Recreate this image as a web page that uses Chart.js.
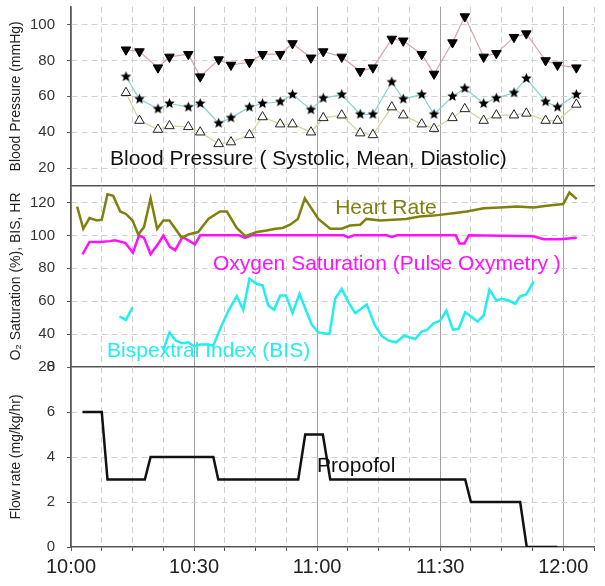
<!DOCTYPE html>
<html>
<head>
<meta charset="utf-8">
<script src="https://cdn.jsdelivr.net/npm/chart.js@4"></script>
<style>
  html, body { margin: 0; padding: 0; background: #fff; }
  #wrap { position: relative; width: 605px; height: 586px; overflow: hidden; }
  canvas { position: absolute; left: 0; }
</style>
</head>
<body>
<div id="wrap">
  <canvas id="bpChart" width="605" height="200" style="top:0px"></canvas>
  <canvas id="vitalsChart" width="605" height="200" style="top:180px"></canvas>
  <canvas id="flowChart" width="605" height="231" style="top:355px"></canvas>
</div>
<script>
// time axis: minutes after 10:00
const xTickLabels = ['10:00', '10:30', '11:00', '11:30', '12:00'];

// blood pressure readings
const bpTimes = [13.4, 16.7, 21.2, 24, 28.6, 31.5, 36, 39, 43.5, 46.7, 51, 54, 58.5, 61.5, 66,
                 70.5, 73.6, 78.2, 81, 85.5, 88.5, 93, 96, 100.6, 103.7, 108, 111, 115.7, 118.6, 123.2];
const systolic = [86, 85, 76, 82, 83.5, 71, 80.5, 77.5, 79, 83.5, 83.5, 89.5, 81.5, 85, 82,
                  74, 76, 92, 91, 83.5, 72.5, 90, 104.5, 82, 84, 93, 95, 80, 77.5, 76];
const mean = [71, 58.5, 53, 56, 54, 56, 45, 48, 54, 56, 57, 61, 52.5, 59, 61,
              50, 50, 68, 58.5, 61, 50, 60, 64.5, 56, 59, 62, 70, 57, 54, 61];
const diastolic = [62, 46.5, 41.5, 43.5, 43, 40, 33.5, 34.5, 38.5, 48.5, 44.5, 44.5, 40, 48, 49.5,
                   39.5, 38.5, 54, 49.5, 44.5, 42, 48, 53, 46.5, 49.5, 49.5, 50.5, 46.5, 46.5, 55.5];

// heart rate
const hrTimes = [1.5, 3, 4.5, 6.3, 7.5, 8.9, 10.3, 12, 13.4, 15, 16.4, 17.8, 19.4, 21, 22.5, 24, 27, 28.6,
                 31, 33.5, 36.3, 38, 40.4, 42.5, 45.3, 47.7, 49.8, 51.6, 53.4, 55.3, 57, 60.3, 63.2, 66,
                 68, 70.5, 72, 75.4, 78.5, 81.7, 85, 88.3, 93.2, 96.5, 100.6, 104.6, 108.7, 112.8, 116,
                 120, 121.5, 123.3];
const hrValues = [117.5, 104, 110.5, 109, 109.5, 125, 124, 114.5, 113, 109, 100.5, 105, 122.5, 104, 109, 109,
                  98.5, 100.5, 102, 110, 114.5, 114.5, 104.5, 99.5, 102, 103, 104, 104.5, 106.5, 110, 122.5,
                  110, 104, 104, 106, 106.5, 110, 109, 109.5, 110, 111.5, 112, 113.5, 114.5, 116.5, 117,
                  117.5, 117, 118, 119, 126, 122];

// oxygen saturation
const spo2Times = [2.8, 4.5, 7, 9.5, 10.7, 13.2, 15.1, 16.6, 17.8, 19.4, 21.3, 22.5, 24.1, 25.4, 27.2, 28.6,
                   30.2, 31.5, 41, 42.4, 44, 66.5, 67.6, 69, 77, 78.2, 79.5, 93.8, 94.7, 95.9, 97, 112.7,
                   115.2, 119.3, 123.3];
const spo2Values = [88.5, 96, 96, 96.5, 97, 95.5, 89.5, 100, 98.5, 88.5, 95, 100, 93, 91, 99, 97,
                    94.5, 100, 100, 98.5, 100, 100, 98.8, 100, 100, 99, 100, 100, 95, 95, 100, 99.5,
                    97.7, 97.7, 98.5];

// bispectral index (null = no signal)
const bisTimes = [11.8, 13.4, 15, 19, 22.5, 24, 25.6, 27.2, 28.6, 30, 31.5, 33.1, 34.7, 36.5, 38.4, 40.4, 42,
                  43.5, 45.3, 46.7, 48.1, 49.5, 51, 52.4, 54, 55.7, 57.3, 58.7, 60.3, 63, 64.4, 66, 67.6,
                  69.3, 72.1, 74.1, 75.7, 77.4, 79.3, 81.2, 83.9, 85.5, 86.8, 88.4, 90, 91.5, 93.1, 94.5,
                  96.1, 97.5, 99.1, 100.6, 102, 103.7, 105, 106.7, 108.3, 109.5, 111, 112.8];
const bisValues = [50.7, 48.6, 56.3, null, 30.5, 41, 36, 34.4, 35, 32.5, 33.6, 33.6, 33, 44, 54.3, 63, 54.7,
                   73.7, 70.4, 69.6, 57.4, 54.8, 63.5, 63.5, 52.7, 64.5, 54.3, 45.8, 41, 40, 61.5, 67.6, 59.4,
                   52.7, 58, 45.2, 39, 36, 35, 39, 37, 41.5, 42.6, 46.6, 48.2, 54.3, 42.7, 43.2,
                   53.3, 50.7, 47.6, 51.3, 67, 60.4, 61.5, 60.4, 58.4, 62.9, 64.1, 72];

// propofol infusion
const propofolTimes = [2.8, 7.5, 8.9, 18, 19.4, 34.7, 35.9, 55.4, 57.1, 61.4, 63.2, 96.1, 97.5, 109.5, 111.1, 118.6];
const propofolRates = [6, 6, 3, 3, 4, 4, 3, 3, 5, 5, 3, 3, 2, 2, 0, 0];

Chart.defaults.font.family = "'Liberation Sans', Arial, sans-serif";
Chart.defaults.color = '#222';

const toPoints = (xs, ys) => xs.map((t, i) => ({ x: t, y: ys[i] }));

// filled five point star for the mean pressure markers
function makeStar(r) {
    const size = Math.ceil(r * 2) + 2;
    const c = document.createElement('canvas');
    c.width = size; c.height = size;
    const g = c.getContext('2d');
    g.beginPath();
    for (let i = 0; i < 10; i++) {
        const rr = i % 2 ? r * 0.45 : r;
        const a = -Math.PI / 2 + i * Math.PI / 5;
        g.lineTo(size / 2 + rr * Math.cos(a), size / 2 + rr * Math.sin(a));
    }
    g.closePath();
    g.fillStyle = '#000';
    g.fill();
    return c;
}

// draws free text at data coordinates
const textLabels = {
    id: 'textLabels',
    afterDatasetsDraw(chart, args, opts) {
        const { ctx, scales } = chart;
        (opts.items || []).forEach(it => {
            ctx.save();
            ctx.font = "21px 'Liberation Sans', Arial, sans-serif";
            ctx.fillStyle = it.color;
            ctx.textBaseline = 'middle';
            ctx.fillText(it.text, scales.x.getPixelForValue(it.x), scales.y.getPixelForValue(it.y));
            ctx.restore();
        });
    }
};

function xScale(showLabels, height) {
    return {
        type: 'linear',
        min: 0,
        max: 127.5,
        afterBuildTicks: s => {
            s.ticks = [];
            for (let i = 0; i <= 17; i++) s.ticks.push({ value: i * 7.5 });
        },
        afterFit: s => {
            s.height = height;
            s.paddingLeft = 0;
            s.paddingRight = 0;
        },
        grid: {
            color: ctx => (ctx.tick && ctx.tick.value % 30 === 0) ? '#a0a0a0' : '#d0d0d0',
            lineWidth: 1,
            drawTicks: true,
            tickLength: 4,
            tickColor: '#555'
        },
        border: {
            color: '#555',
            width: 1.5,
            dash: ctx => (!ctx.tick || ctx.tick.value % 30 === 0) ? [] : [6, 4]
        },
        ticks: {
            display: showLabels,
            autoSkip: false,
            maxRotation: 0,
            padding: 4,
            color: '#222',
            font: { size: 20 },
            callback: v => v % 30 === 0 ? xTickLabels[v / 30] : ''
        }
    };
}

function yScale(min, max, ticks, title, hiddenGrid) {
    return {
        min: min,
        max: max,
        afterBuildTicks: s => { s.ticks = ticks.map(v => ({ value: v })); },
        afterFit: s => {
            s.width = 71;
            s.paddingTop = 0;
            s.paddingBottom = 0;
        },
        grid: {
            color: ctx => (ctx.tick && hiddenGrid.includes(ctx.tick.value)) ? 'rgba(0,0,0,0)' : '#d0d0d0',
            drawTicks: true,
            tickLength: 4,
            tickColor: '#555'
        },
        border: { color: '#555', width: 1.5, dash: ctx => ctx.tick ? [6, 4] : [] },
        ticks: { padding: 12, color: '#333', font: { size: 15 } },
        title: {
            display: true,
            text: title,
            color: '#222',
            font: { size: 14 },
            padding: { top: 8, bottom: 0 }
        }
    };
}

const baseOptions = (padTop) => ({
    responsive: false,
    animation: false,
    layout: { padding: { top: padTop, right: 11, left: 0, bottom: 0 } },
    plugins: { legend: { display: false }, tooltip: { enabled: false } },
    elements: { line: { tension: 0 } }
});

// Blood pressure panel
const bpOpts = baseOptions(6);
bpOpts.scales = { x: xScale(false, 14), y: yScale(10, 110, [20, 40, 60, 80, 100], 'Blood Pressure (mmHg)', []) };
bpOpts.plugins.textLabels = { items: [
    { text: 'Blood Pressure ( Systolic, Mean, Diastolic)', x: 9.5, y: 24.8, color: '#111' }
] };
new Chart(document.getElementById('bpChart'), {
    type: 'line',
    data: {
        datasets: [{
            label: 'Systolic',
            data: toPoints(bpTimes, systolic),
            borderColor: '#d9a3a3',
            borderWidth: 1.2,
            pointStyle: 'triangle',
            rotation: 180,
            pointRadius: 5.5,
            pointBackgroundColor: '#000',
            pointBorderColor: '#000',
            pointBorderWidth: 1
        }, {
            label: 'Mean',
            data: toPoints(bpTimes, mean),
            borderColor: '#86d2d2',
            borderWidth: 1.2,
            pointStyle: makeStar(5.5),
            pointRadius: 5.5
        }, {
            label: 'Diastolic',
            data: toPoints(bpTimes, diastolic),
            borderColor: '#d3d39a',
            borderWidth: 1.2,
            pointStyle: 'triangle',
            pointRadius: 5.5,
            pointBackgroundColor: '#fff',
            pointBorderColor: '#222',
            pointBorderWidth: 1
        }]
    },
    options: bpOpts,
    plugins: [textLabels]
});

// Heart rate, SpO2 and BIS panel
const vitOpts = baseOptions(6);
vitOpts.scales = { x: xScale(false, 13), y: yScale(20, 130, [20, 40, 60, 80, 100, 120], 'O\u2082 Saturation (%), BIS, HR', [20]) };
vitOpts.plugins.textLabels = { items: [
    { text: 'Heart Rate', x: 64.4, y: 116.5, color: '#7f7f10' },
    { text: 'Oxygen Saturation (Pulse Oxymetry )', x: 34.6, y: 82.4, color: '#ff10ff' },
    { text: 'Bispextral Index (BIS)', x: 8.8, y: 29.3, color: '#22eeee' }
] };
new Chart(document.getElementById('vitalsChart'), {
    type: 'line',
    data: {
        datasets: [{
            label: 'Heart Rate',
            data: toPoints(hrTimes, hrValues),
            borderColor: '#808010',
            borderWidth: 2.5,
            pointRadius: 0
        }, {
            label: 'SpO2',
            data: toPoints(spo2Times, spo2Values),
            borderColor: '#ff10ff',
            borderWidth: 2.5,
            pointRadius: 0
        }, {
            label: 'BIS',
            data: toPoints(bisTimes, bisValues),
            borderColor: '#22eeee',
            borderWidth: 2.5,
            pointRadius: 0,
            spanGaps: false
        }]
    },
    options: vitOpts,
    plugins: [textLabels]
});

// Propofol flow panel
const flowOpts = baseOptions(12);
flowOpts.scales = { x: xScale(true, 39), y: yScale(0, 8, [0, 2, 4, 6, 8], 'Flow rate (mg/kg/hr)', [0, 8]) };
flowOpts.plugins.textLabels = { items: [
    { text: 'Propofol', x: 60, y: 3.6, color: '#111' }
] };
new Chart(document.getElementById('flowChart'), {
    type: 'line',
    data: {
        datasets: [{
            label: 'Propofol',
            data: toPoints(propofolTimes, propofolRates),
            borderColor: '#111',
            borderWidth: 2.5,
            pointRadius: 0
        }]
    },
    options: flowOpts,
    plugins: [textLabels]
});
</script>
</body>
</html>
